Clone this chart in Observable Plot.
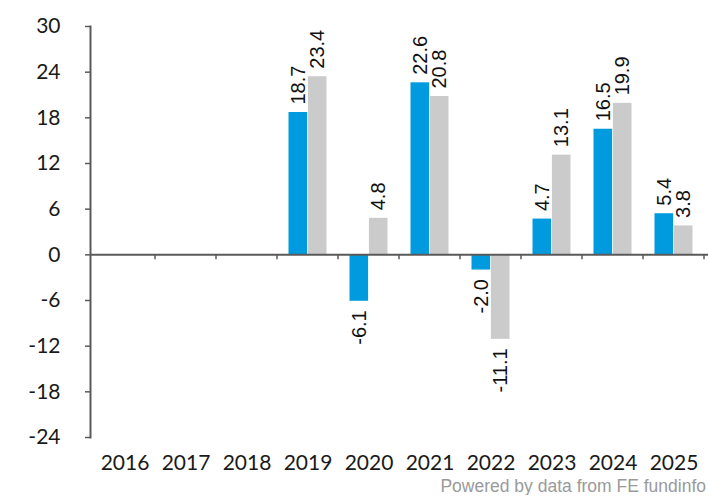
<!DOCTYPE html>
<html>
<head>
<meta charset="utf-8">
<script src="https://cdn.jsdelivr.net/npm/d3@7"></script>
<script src="https://cdn.jsdelivr.net/npm/@observablehq/plot@0.6"></script>
<style>
  html, body { margin: 0; padding: 0; background: #fff; }
  #chart { width: 709px; }
  #caption { width: 706px; text-align: right; font-family: "Liberation Sans", Arial, sans-serif; font-size: 17.5px; line-height: 18px; color: #9a9a9a; }
</style>
</head>
<body>
<div id="chart"></div>
<div id="caption">Powered by data from FE fundinfo</div>
<script>
const years = ["2016", "2017", "2018", "2019", "2020", "2021", "2022", "2023", "2024", "2025"];
const fund = [null, null, null, 18.7, -6.1, 22.6, -2.0, 4.7, 16.5, 5.4];
const sector = [null, null, null, 23.4, 4.8, 20.8, -11.1, 13.1, 19.9, 3.8];
const yTicks = [-24, -18, -12, -6, 0, 6, 12, 18, 24, 30];

const blue = "#009bdf";
const grey = "#cbcbcb";
const axisColor = "#5a5a5a";

const rows = [];
years.forEach((y, i) => {
  if (fund[i] != null) rows.push({year: y, series: "fund", value: fund[i]});
  if (sector[i] != null) rows.push({year: y, series: "sector", value: sector[i]});
});
const fundRows = rows.filter(d => d.series === "fund");
const sectorRows = rows.filter(d => d.series === "sector");
const fmt = d => d.value.toFixed(1);

const labelStyle = {fontFamily: "Liberation Sans, Arial, sans-serif", fontSize: 20, fill: "#111", rotate: -90, lineAnchor: "middle"};

function zeroTicks(index, scales) {
  const {x, y} = scales;
  const step = x(years[1]) - x(years[0]);
  const g = d3.create("svg:g").attr("stroke", axisColor).attr("stroke-width", 1.5);
  years.forEach(yr => {
    const px = x(yr) + step;
    g.append("line").attr("x1", px).attr("x2", px).attr("y1", y(0)).attr("y2", y(0) + 5);
  });
  return g.node();
}

const chart = Plot.plot({
  width: 709,
  height: 477,
  marginTop: 26,
  marginBottom: 40,
  marginLeft: 90,
  marginRight: 1,
  style: {fontFamily: "Lato, sans-serif", fontSize: "21px", color: "#1a1a1a", background: "#fff"},
  x: {type: "band", domain: years, padding: 0},
  y: {domain: [-24, 30]},
  marks: [
    Plot.barY(fundRows, {x: "year", y: "value", fill: blue, insetLeft: 11.5, insetRight: 30.9}),
    Plot.barY(sectorRows, {x: "year", y: "value", fill: grey, insetLeft: 30.9, insetRight: 11.5}),
    Plot.ruleY([0], {stroke: axisColor, strokeWidth: 2}),
    zeroTicks,
    Plot.frame({anchor: "left", stroke: axisColor, strokeWidth: 2}),
    Plot.axisY({ticks: yTicks, tickSize: 5, tickPadding: 25, tickFormat: d => String(d), stroke: axisColor, strokeWidth: 1.5, fill: "#1a1a1a", label: null}),
    Plot.axisX({tickSize: 0, tickPadding: 18, fill: "#1a1a1a", label: null}),
    Plot.text(fundRows.filter(d => d.value >= 0), {x: "year", y: "value", text: fmt, textAnchor: "start", dx: -9.7, dy: -8, ...labelStyle}),
    Plot.text(fundRows.filter(d => d.value < 0), {x: "year", y: "value", text: fmt, textAnchor: "end", dx: -9.7, dy: 9, ...labelStyle}),
    Plot.text(sectorRows.filter(d => d.value >= 0), {x: "year", y: "value", text: fmt, textAnchor: "start", dx: 9.7, dy: -8, ...labelStyle}),
    Plot.text(sectorRows.filter(d => d.value < 0), {x: "year", y: "value", text: fmt, textAnchor: "end", dx: 9.7, dy: 9, ...labelStyle})
  ]
});
document.getElementById("chart").appendChild(chart);
</script>
</body>
</html>
